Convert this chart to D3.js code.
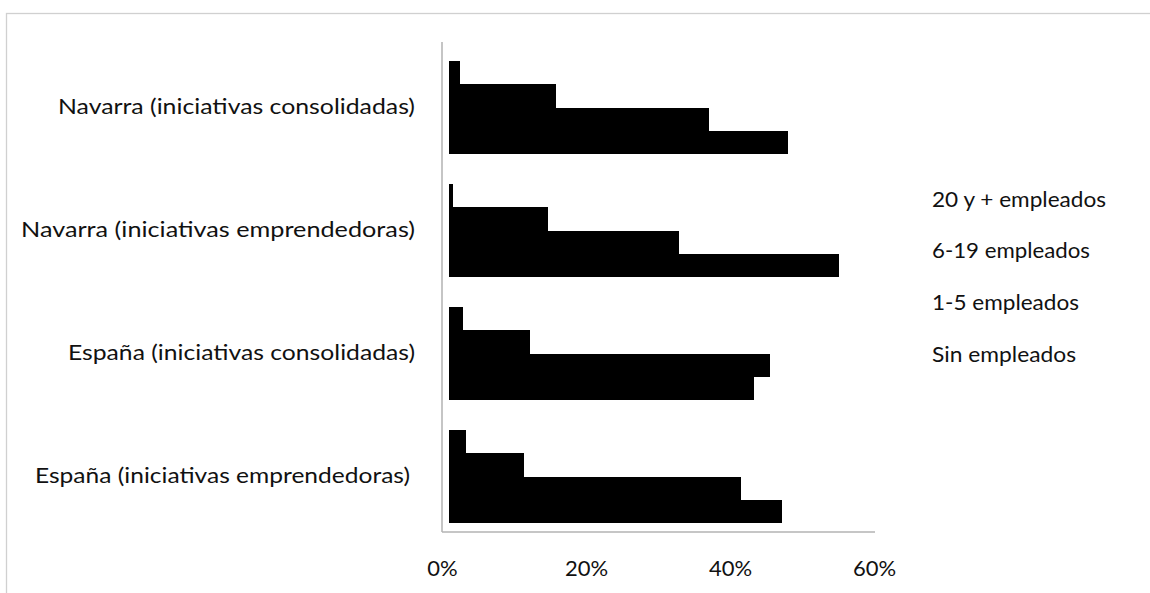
<!DOCTYPE html>
<html>
<head>
<meta charset="utf-8">
<script src="https://cdn.jsdelivr.net/npm/d3@7"></script>
<style>
  html, body { margin: 0; padding: 0; background: #fff; }
  svg { display: block; }
  text { font-family: Lato, "Open Sans", sans-serif; fill: #111; }
</style>
</head>
<body>
<svg id="chart" width="1150" height="593"></svg>
<script>
// Categories, top to bottom
const categories = [
  "Navarra (iniciativas consolidadas)",
  "Navarra (iniciativas emprendedoras)",
  "España (iniciativas consolidadas)",
  "España (iniciativas emprendedoras)"
];

// Series, in drawing order inside each group (top to bottom)
const seriesNames = ["20 y + empleados", "6-19 empleados", "1-5 empleados", "Sin empleados"];

// Percent of initiatives per size band
const veintePlus = [1.5, 0.5, 1.9, 2.3];
const seisDiecinueve = [14.9, 13.7, 11.3, 10.4];
const unoCinco = [36.1, 31.9, 44.6, 40.5];
const sinEmpleados = [47.1, 54.2, 42.4, 46.3];

const xTicks = [0, 20, 40, 60];

const seriesValues = [veintePlus, seisDiecinueve, unoCinco, sinEmpleados];
const rows = categories.map((c, i) => ({
  category: c,
  values: seriesNames.map((s, k) => ({ series: s, value: seriesValues[k][i] }))
}));

const svg = d3.select("#chart");

// Outer chart border
svg.append("rect")
  .attr("x", 6.5).attr("y", 13.5)
  .attr("width", 1200).attr("height", 640)
  .attr("fill", "none")
  .attr("stroke", "#d0d0d0")
  .attr("stroke-width", 1.3);

// Plot frame
const frame = { left: 442, right: 875, top: 42, bottom: 532 };

const x = d3.scaleLinear().domain([0, 60]).range([449, 881]);
const y = d3.scaleBand().domain(categories).range([46, 538])
  .paddingInner(0.25).paddingOuter(0.125);
const ySub = d3.scaleBand().domain(seriesNames).range([0, y.bandwidth()]);

// Bars
const groups = svg.append("g").selectAll("g")
  .data(rows).join("g")
  .attr("transform", d => `translate(0,${y(d.category)})`);

groups.selectAll("rect")
  .data(d => d.values).join("rect")
  .attr("x", x(0))
  .attr("y", d => ySub(d.series))
  .attr("width", d => x(d.value) - x(0))
  .attr("height", ySub.bandwidth() + 0.6)
  .attr("fill", "#000")
  .attr("shape-rendering", "crispEdges");

// Axis lines
svg.append("line")
  .attr("x1", frame.left).attr("x2", frame.left)
  .attr("y1", frame.top).attr("y2", frame.bottom)
  .attr("stroke", "#a6a6a6").attr("stroke-width", 1.3);
svg.append("line")
  .attr("x1", frame.left).attr("x2", frame.right)
  .attr("y1", frame.bottom).attr("y2", frame.bottom)
  .attr("stroke", "#b3b3b3").attr("stroke-width", 1.3);

// X axis labels
const xAxis = d3.axisBottom(x)
  .tickValues(xTicks)
  .tickSize(0)
  .tickFormat(d => d + "%");
const gx = svg.append("g")
  .attr("transform", `translate(${frame.left - x(0)},${frame.bottom})`)
  .call(xAxis);
gx.select(".domain").remove();
gx.selectAll("text")
  .attr("y", 44).attr("dy", null)
  .attr("font-size", 22)
  .attr("font-family", "Lato, 'Open Sans', sans-serif")
  .attr("fill", "#111");

// Category labels
const labelWidths = [357, 394, 347, 375];
svg.append("g").selectAll("text")
  .data(categories).join("text")
  .attr("x", (d, i) => i === 3 ? 410 : 415)
  .attr("y", d => y(d) + y.bandwidth() / 2 + 6)
  .attr("text-anchor", "end")
  .attr("font-size", 22)
  .attr("textLength", (d, i) => labelWidths[i])
  .attr("lengthAdjust", "spacingAndGlyphs")
  .text(d => d);

// Legend (text entries)
const legendWidths = [174, 158, 147, 144];
svg.append("g").selectAll("text")
  .data(seriesNames).join("text")
  .attr("x", 932)
  .attr("y", (d, i) => 206.5 + i * 51.8)
  .attr("font-size", 21)
  .attr("textLength", (d, i) => legendWidths[i])
  .attr("lengthAdjust", "spacingAndGlyphs")
  .text(d => d);
</script>
</body>
</html>
